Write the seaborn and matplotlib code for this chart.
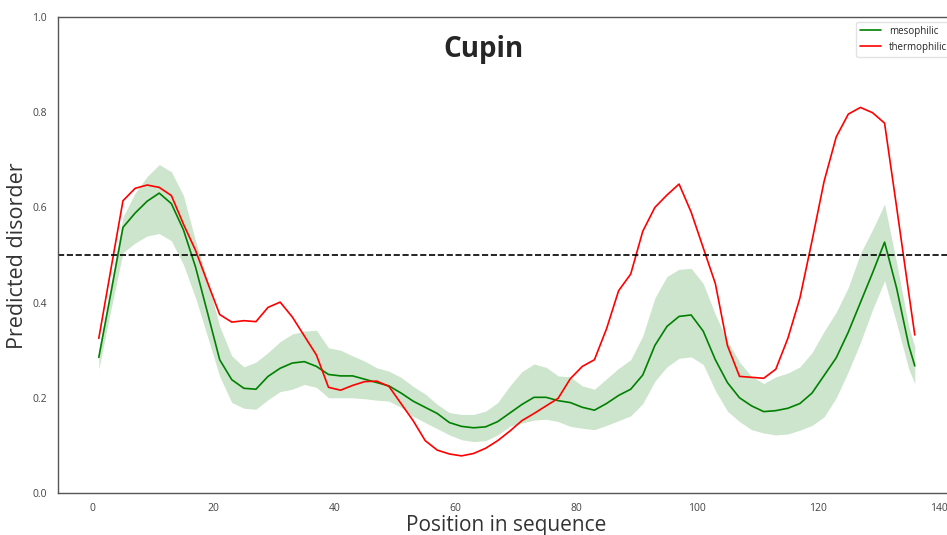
import numpy as np
import pandas as pd
import seaborn as sns
import matplotlib
matplotlib.use("Agg")
import matplotlib.pyplot as plt

positions = [1, 3, 5, 7, 9, 11, 13, 15, 17, 19, 21, 23, 25, 27, 29, 31, 33, 35, 37, 39,
             41, 43, 45, 47, 49, 51, 53, 55, 57, 59, 61, 63, 65, 67, 69, 71, 73, 75, 77, 79,
             81, 83, 85, 87, 89, 91, 93, 95, 97, 99, 101, 103, 105, 107, 109, 111, 113, 115,
             117, 119, 121, 123, 125, 127, 129, 131, 133, 135, 136]

meso_mean = [0.285, 0.42, 0.558, 0.588, 0.613, 0.63, 0.608, 0.553, 0.475, 0.378, 0.28, 0.238,
             0.22, 0.218, 0.245, 0.262, 0.273, 0.276, 0.266, 0.249, 0.246, 0.246, 0.239, 0.232,
             0.225, 0.21, 0.193, 0.18, 0.167, 0.148, 0.14, 0.137, 0.139, 0.15, 0.168, 0.186,
             0.201, 0.201, 0.194, 0.19, 0.18, 0.174, 0.188, 0.205, 0.218, 0.248, 0.31, 0.35,
             0.371, 0.374, 0.34, 0.28, 0.232, 0.2, 0.183, 0.171, 0.173, 0.178, 0.188, 0.21,
             0.247, 0.284, 0.338, 0.4, 0.462, 0.527, 0.43, 0.31, 0.267]

meso_upper = [0.30, 0.44, 0.58, 0.63, 0.665, 0.69, 0.675, 0.625, 0.53, 0.447, 0.35, 0.288,
              0.265, 0.275, 0.295, 0.318, 0.334, 0.34, 0.342, 0.305, 0.30, 0.288, 0.277, 0.263,
              0.256, 0.243, 0.224, 0.208, 0.186, 0.169, 0.165, 0.165, 0.172, 0.19, 0.225, 0.255,
              0.271, 0.264, 0.246, 0.244, 0.225, 0.218, 0.24, 0.262, 0.28, 0.33, 0.41, 0.455,
              0.47, 0.472, 0.44, 0.375, 0.32, 0.275, 0.245, 0.23, 0.244, 0.252, 0.265, 0.295,
              0.34, 0.38, 0.432, 0.503, 0.553, 0.607, 0.483, 0.35, 0.307]

meso_lower = [0.26, 0.385, 0.505, 0.525, 0.54, 0.545, 0.53, 0.48, 0.41, 0.328, 0.245, 0.19,
              0.178, 0.176, 0.196, 0.213, 0.218, 0.228, 0.222, 0.20, 0.20, 0.20, 0.198, 0.195,
              0.193, 0.18, 0.161, 0.148, 0.135, 0.122, 0.112, 0.108, 0.11, 0.122, 0.14, 0.147,
              0.153, 0.155, 0.15, 0.14, 0.136, 0.133, 0.142, 0.152, 0.162, 0.188, 0.235, 0.265,
              0.283, 0.286, 0.27, 0.215, 0.172, 0.15, 0.133, 0.126, 0.122, 0.124, 0.132, 0.142,
              0.16, 0.20, 0.255, 0.316, 0.385, 0.446, 0.356, 0.26, 0.23]

thermo_mean = [0.325, 0.47, 0.614, 0.64, 0.647, 0.642, 0.625, 0.565, 0.51, 0.442, 0.375, 0.359,
               0.362, 0.36, 0.39, 0.401, 0.37, 0.33, 0.29, 0.222, 0.216, 0.226, 0.234, 0.235,
               0.224, 0.188, 0.152, 0.11, 0.09, 0.082, 0.078, 0.083, 0.094, 0.11, 0.13, 0.152,
               0.167, 0.183, 0.199, 0.24, 0.266, 0.28, 0.345, 0.425, 0.46, 0.55, 0.60, 0.626,
               0.649, 0.59, 0.515, 0.44, 0.31, 0.245, 0.243, 0.241, 0.26, 0.325, 0.41, 0.53,
               0.655, 0.748, 0.796, 0.81, 0.799, 0.777, 0.60, 0.42, 0.332]

threshold = 0.5
title_text = "Cupin"
x_label = "Position in sequence"
y_label = "Predicted disorder"
series_names = ["mesophilic", "thermophilic"]

df = pd.DataFrame({
    "position": positions * 2,
    "disorder": meso_mean + thermo_mean,
    "group": [series_names[0]] * len(positions) + [series_names[1]] * len(positions),
})

sns.set_theme(style="white")
plt.rcParams["font.family"] = ["Open Sans", "DejaVu Sans"]

fig = plt.figure(figsize=(9.47, 5.35), dpi=100)
ax = fig.add_axes([58 / 947, 42 / 535, (955.6 - 58) / 947, 476 / 535])

ax.fill_between(positions, meso_lower, meso_upper, color="green", alpha=0.2, linewidth=0)
sns.lineplot(data=df, x="position", y="disorder", hue="group",
             palette={"mesophilic": "green", "thermophilic": "red"},
             linewidth=1.2, ax=ax)
ax.axhline(threshold, color="black", linestyle="--", linewidth=1.2)

ax.set_xlim(-5.75, 142.75)
ax.set_ylim(0, 1)
ax.set_xticks([0, 20, 40, 60, 80, 100, 120, 140])
ax.set_yticks([0.0, 0.2, 0.4, 0.6, 0.8, 1.0])
ax.tick_params(axis="both", length=0, labelsize=7.5, labelcolor="#444444")
ax.tick_params(axis="x", pad=7)
ax.tick_params(axis="y", pad=8)
ax.set_xlabel(x_label, fontsize=15, color="#333333")
ax.set_ylabel(y_label, fontsize=15.5, color="#333333")
ax.xaxis.set_label_coords((506 - 58) / 897.6, (493 - 515) / 476)
ax.yaxis.set_label_coords((28 - 58) / 897.6, (493 - 256) / 476)
for s in ax.spines.values():
    s.set_color("#555555")
    s.set_linewidth(1.0)

leg = ax.legend(loc="upper right", fontsize=7, frameon=True, title=None, handlelength=2.2)
leg.get_frame().set_edgecolor("#dddddd")

fig.text(483 / 947, 1 - 50 / 535, title_text, ha="center", va="center",
         fontsize=20, fontweight="bold", family=["Open Sans", "DejaVu Sans"])

fig.savefig("out.png", dpi=100)
